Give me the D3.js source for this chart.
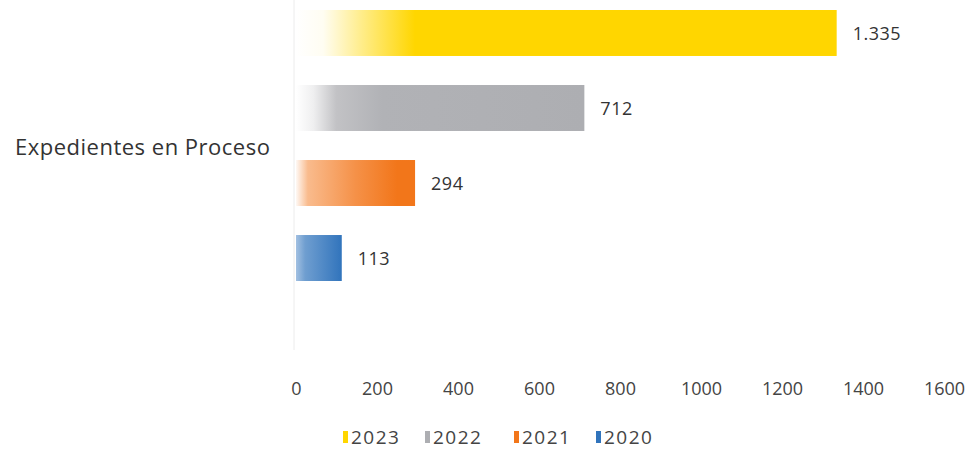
<!DOCTYPE html>
<html><head><meta charset="utf-8">
<script src="https://cdn.jsdelivr.net/npm/d3@7"></script>
<style>body{margin:0;background:#fff;} text{font-family:"Open Sans",Lato,sans-serif;}</style>
</head><body>
<svg id="c" width="980" height="450"></svg>
<script>
const category = "Expedientes en Proceso";
const series = ["2023","2022","2021","2020"];
const values = [1335, 712, 294, 113];
const valueLabels = ["1.335","712","294","113"];
const tickValues = [0,200,400,600,800,1000,1200,1400,1600];

const colors = {"2023":"#FFD600","2022":"#ADAEB2","2021":"#F2761A","2020":"#3174BC"};
const gradStops = {
  "2023":[[0,0],[0.05,0.05],[0.12,0.45],[0.22,1],[1,1]],
  "2022":[[0,0],[0.06,0.2],[0.14,0.75],[0.3,0.95],[1,1]],
  "2021":[[0,0.05],[0.1,0.5],[0.5,0.8],[0.85,1],[1,1]],
  "2020":[[0,0.45],[0.2,0.7],[1,1]]
};

const svg = d3.select("#c");
const x = d3.scaleLinear().domain([0,1600]).range([296,944]);
const y = d3.scaleBand().domain(series).range([10,281]).paddingInner(0.387).paddingOuter(0);

const defs = svg.append("defs");
series.forEach((s,i)=>{
  const g = defs.append("linearGradient").attr("id","g"+i).attr("x1","0").attr("x2","1").attr("y1","0").attr("y2","0");
  gradStops[s].forEach(([o,m])=>{
    g.append("stop").attr("offset",o).attr("stop-color",d3.interpolateRgb("#ffffff",colors[s])(m));
  });
});

svg.append("line").attr("x1",x(0)-2).attr("x2",x(0)-2).attr("y1",0).attr("y2",350)
  .attr("stroke","#ececec").attr("stroke-width",1);

svg.append("g").selectAll("rect").data(series).join("rect")
  .attr("x",x(0)).attr("y",d=>y(d)).attr("height",y.bandwidth())
  .attr("width",(d,i)=>x(values[i])-x(0))
  .attr("fill",(d,i)=>"url(#g"+i+")");

svg.append("g").selectAll("text").data(series).join("text")
  .attr("x",(d,i)=>x(values[i])+16).attr("y",d=>y(d)+y.bandwidth()/2+7)
  .attr("font-size",18).attr("letter-spacing",0.5).attr("fill","#333")
  .text((d,i)=>valueLabels[i]);

svg.append("text").attr("x",15).attr("y",155).attr("font-size",22).attr("letter-spacing",0.5).attr("fill","#333").text(category);

const ax = svg.append("g").attr("transform","translate(0,397)")
  .call(d3.axisBottom(x).tickValues(tickValues).tickSize(0).tickPadding(0).tickFormat(d3.format("d")));
ax.select(".domain").remove();
ax.selectAll("text").attr("font-size",18).attr("fill","#444").attr("font-family","'Open Sans',sans-serif").attr("dy","-0.1em");

const legX = [343,425,514,596];
const leg = svg.append("g").selectAll("g").data(series).join("g")
  .attr("transform",(d,i)=>`translate(${legX[i]},444)`);
leg.append("rect").attr("x",0).attr("y",-13).attr("width",5).attr("height",12).attr("fill",d=>colors[d]);
leg.append("text").attr("x",8).attr("y",0).attr("font-size",19).attr("letter-spacing",1.5).attr("fill","#444").text(d=>d);
</script>
</body></html>
